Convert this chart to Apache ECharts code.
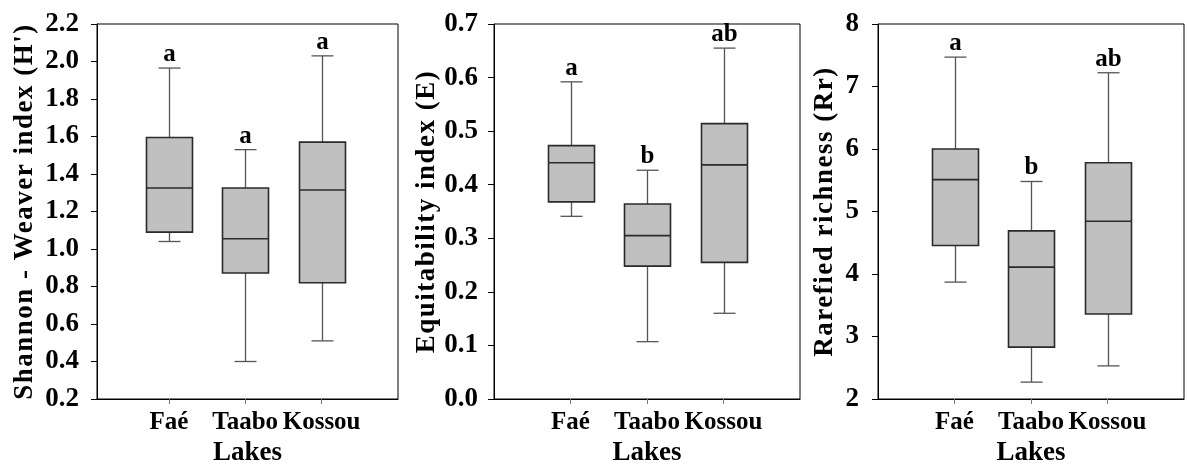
<!DOCTYPE html>
<html>
<head>
<meta charset="utf-8">
<script src="https://cdn.jsdelivr.net/npm/echarts@6/dist/echarts.min.js"></script>
<style>
  html, body { margin: 0; padding: 0; background: #fff; overflow: hidden; }
  #chart { width: 1187px; height: 466px; }
</style>
</head>
<body>
<div id="chart"></div>
<script>
// lakes on the x axis, placed at 1, 2, 3
const lakes = ['Faé', 'Taabo', 'Kossou'];
const lakePos = [1, 2, 3];

// box stats per lake: [min, Q1, median, Q3, max]
const shannon = [
  [1.04, 1.09, 1.325, 1.595, 1.965],
  [0.40, 0.872, 1.055, 1.325, 1.53],
  [0.51, 0.82, 1.315, 1.57, 2.03]
];
const equitability = [
  [0.341, 0.368, 0.441, 0.473, 0.592],
  [0.107, 0.248, 0.305, 0.364, 0.427],
  [0.16, 0.255, 0.437, 0.514, 0.655]
];
const richness = [
  [3.87, 4.455, 5.51, 6.0, 7.47],
  [2.27, 2.83, 4.11, 4.69, 5.48],
  [2.53, 3.36, 4.845, 5.78, 7.22]
];

// significance letters above each box
const shannonLetters = ['a', 'a', 'a'];
const equitLetters = ['a', 'b', 'ab'];
const richLetters = ['a', 'b', 'ab'];

// axis titles and ranges
const yNames = ['Shannon - Weaver index (H\')', 'Equitability index (E)', 'Rarefied richness (Rr)'];
const yRanges = [[0.2, 2.2, 0.2], [0, 0.7, 0.1], [2, 8, 1]];
const xName = 'Lakes';

const FONT = '"Liberation Serif", "Times New Roman", serif';
const panels = [
  { stats: shannon, letters: shannonLetters, left: 97, width: 301, xMin: 0.06, labelMargin: 18, nameGap: 58, digits: 1 },
  { stats: equitability, letters: equitLetters, left: 494, width: 306, xMin: 0, labelMargin: 16, nameGap: 52, digits: 1 },
  { stats: richness, letters: richLetters, left: 878, width: 306, xMin: 0, labelMargin: 19, nameGap: 39, digits: 0 }
];

// the y titles in the original are letter-spaced: apply canvas letterSpacing
// to those strings only, and force the font to be re-resolved each time
const baseFillText = CanvasRenderingContext2D.prototype.fillText;
function refreshFont(ctx) {
  const f = ctx.font;
  ctx.font = '10px serif';
  ctx.font = f;
}
CanvasRenderingContext2D.prototype.fillText = function (text, x, y, maxW) {
  const spaced = yNames.includes(text);
  this.letterSpacing = spaced ? '1.5px' : '0px';
  refreshFont(this);
  baseFillText.call(this, text, x, y, maxW);
  if (spaced) {
    this.letterSpacing = '0px';
    refreshFont(this);
  }
};

const chart = echarts.init(document.getElementById('chart'));

function makeRender(letters) {
  return function (params, api) {
    const x = api.value(0);
    const pMin = api.coord([x, api.value(1)]);
    const pQ1 = api.coord([x, api.value(2)]);
    const pMed = api.coord([x, api.value(3)]);
    const pQ3 = api.coord([x, api.value(4)]);
    const pMax = api.coord([x, api.value(5)]);
    const cx = Math.round(pMed[0]) + 0.5;
    const hw = 23, cw = 11;
    const whisker = { stroke: '#555', lineWidth: 1.3 };
    const edge = { stroke: '#2a2a2a', lineWidth: 1.6 };
    return {
      type: 'group',
      children: [
        { type: 'line', shape: { x1: cx, y1: pMax[1], x2: cx, y2: pQ3[1] }, style: whisker },
        { type: 'line', shape: { x1: cx, y1: pQ1[1], x2: cx, y2: pMin[1] }, style: whisker },
        { type: 'line', shape: { x1: cx - cw, y1: pMax[1], x2: cx + cw, y2: pMax[1] }, style: whisker },
        { type: 'line', shape: { x1: cx - cw, y1: pMin[1], x2: cx + cw, y2: pMin[1] }, style: whisker },
        {
          type: 'rect',
          shape: { x: cx - hw, y: pQ3[1], width: hw * 2, height: pQ1[1] - pQ3[1] },
          style: { fill: '#c0c0c0', stroke: '#2a2a2a', lineWidth: 1.6 }
        },
        { type: 'line', shape: { x1: cx - hw, y1: pMed[1], x2: cx + hw, y2: pMed[1] }, style: edge },
        {
          type: 'text',
          style: {
            text: letters[params.dataIndex], x: cx, y: pMax[1] - 1,
            align: 'center', verticalAlign: 'bottom',
            font: 'bold 25px ' + FONT, fill: '#000'
          }
        }
      ]
    };
  };
}

const grid = [], xAxis = [], yAxis = [], series = [];
panels.forEach((p, i) => {
  const [yMin, yMax, yStep] = yRanges[i];
  grid.push({
    left: p.left, top: 24, width: p.width, height: 375,
    outerBoundsMode: 'none', containLabel: false,
    show: true, borderColor: '#000', borderWidth: 1, backgroundColor: 'transparent'
  });
  xAxis.push({
    type: 'value', gridIndex: i, min: p.xMin, max: 4,
    name: xName, nameLocation: 'middle', nameGap: 39,
    nameTextStyle: { fontFamily: FONT, fontWeight: 'bold', fontSize: 27, color: '#000' },
    axisLine: { show: true, lineStyle: { color: '#000', width: 1 } },
    axisTick: { show: true, customValues: lakePos, length: 5, lineStyle: { color: '#777' } },
    axisLabel: {
      customValues: lakePos, margin: 11,
      formatter: v => lakes[lakePos.indexOf(v)] || '',
      fontFamily: FONT, fontWeight: 'bold', fontSize: 25, color: '#000'
    },
    splitLine: { show: false }
  });
  yAxis.push({
    type: 'value', gridIndex: i, min: yMin, max: yMax, interval: yStep,
    name: yNames[i], nameLocation: 'middle', nameGap: p.nameGap,
    nameTextStyle: { fontFamily: FONT, fontWeight: 'bold', fontSize: 27, color: '#000' },
    axisLine: { show: true, lineStyle: { color: '#000', width: 1 } },
    axisTick: { show: true, length: 6, lineStyle: { color: '#000' } },
    axisLabel: {
      margin: p.labelMargin,
      formatter: v => v.toFixed(p.digits),
      fontFamily: FONT, fontWeight: 'bold', fontSize: 27, color: '#000'
    },
    splitLine: { show: false }
  });
  series.push({
    type: 'custom', xAxisIndex: i, yAxisIndex: i,
    renderItem: makeRender(p.letters),
    data: p.stats.map((s, k) => [lakePos[k]].concat(s)),
    silent: true, animation: false
  });
});

chart.setOption({ animation: false, grid, xAxis, yAxis, series });
</script>
</body>
</html>
